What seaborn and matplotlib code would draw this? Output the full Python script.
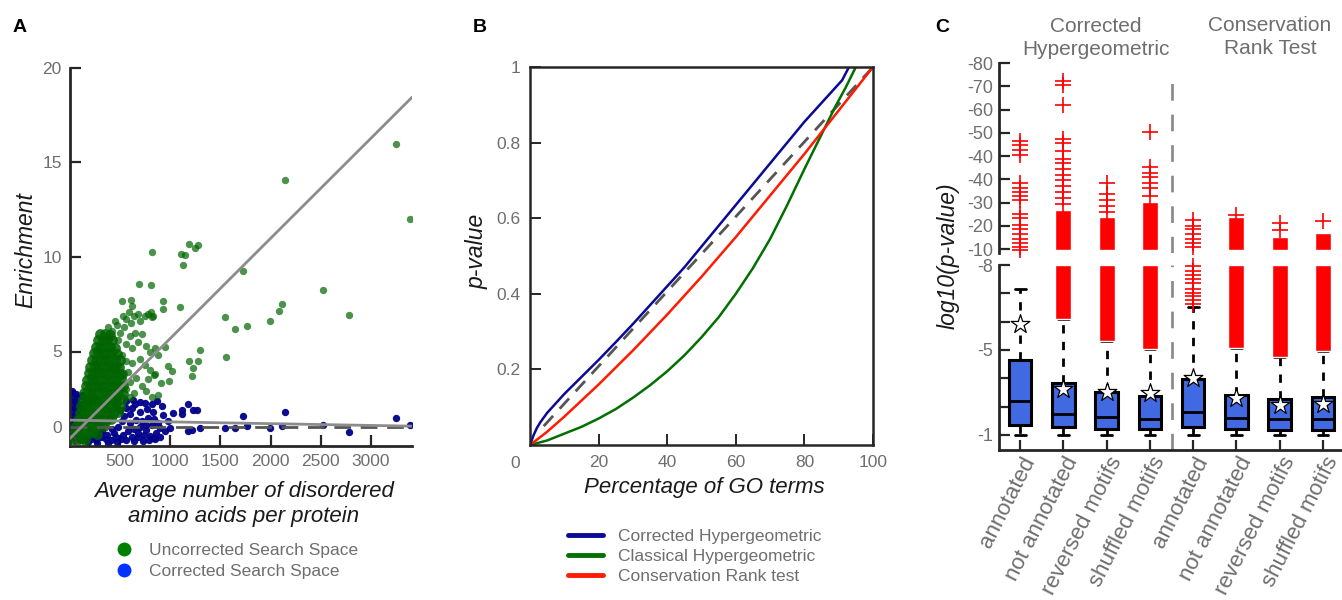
import matplotlib
matplotlib.use("Agg")
import matplotlib.pyplot as plt
import matplotlib.transforms as mtransforms
from matplotlib.lines import Line2D
import numpy as np
import seaborn as sns

sns.set_style("ticks")
plt.rcParams['font.family'] = ['Liberation Sans', 'DejaVu Sans']

# ---------- PANEL A DATA ----------
green_core = [
    (30, 0.35), (70, 0.30), (110, 0.40), (150, 0.30),
    (40, 0.70), (85, 0.75), (130, 0.65), (175, 0.70), (220, 0.75), (265, 0.65),
    (55, 1.05), (100, 1.00), (145, 1.10), (190, 1.05), (240, 1.00), (290, 1.10), (340, 1.05),
    (75, 1.40), (120, 1.45), (165, 1.35), (210, 1.40), (260, 1.45), (310, 1.35), (360, 1.40), (410, 1.45),
    (95, 1.75), (140, 1.70), (185, 1.80), (230, 1.75), (280, 1.70), (330, 1.80), (380, 1.75), (430, 1.70), (480, 1.80),
    (110, 2.10), (155, 2.15), (200, 2.05), (245, 2.10), (295, 2.15), (345, 2.05), (395, 2.10), (445, 2.15), (500, 2.05),
    (125, 2.45), (170, 2.40), (215, 2.50), (260, 2.45), (310, 2.40), (360, 2.50), (410, 2.45), (460, 2.40), (515, 2.50),
    (140, 2.80), (185, 2.85), (230, 2.75), (275, 2.80), (325, 2.85), (375, 2.75), (425, 2.80), (475, 2.85), (525, 2.75),
    (155, 3.15), (200, 3.10), (245, 3.20), (290, 3.15), (340, 3.10), (390, 3.20), (440, 3.15), (490, 3.10), (530, 3.20),
    (170, 3.50), (215, 3.55), (260, 3.45), (305, 3.50), (355, 3.55), (405, 3.45), (455, 3.50), (510, 3.55),
    (185, 3.85), (230, 3.80), (275, 3.90), (320, 3.85), (370, 3.80), (420, 3.90), (470, 3.85), (520, 3.80),
    (200, 4.20), (245, 4.25), (290, 4.15), (335, 4.20), (385, 4.25), (435, 4.15), (490, 4.20),
    (215, 4.55), (260, 4.50), (305, 4.60), (350, 4.55), (400, 4.50), (450, 4.60), (500, 4.55),
    (235, 4.90), (280, 4.95), (325, 4.85), (370, 4.90), (420, 4.95), (470, 4.85),
    (255, 5.25), (300, 5.20), (345, 5.30), (395, 5.25), (445, 5.20),
    (280, 5.60), (325, 5.55), (370, 5.65), (420, 5.60),
    (300, 5.90), (345, 5.95), (395, 5.85),
]
green_spread = [
    (420, 6.1), (470, 6.4), (500, 6.0), (540, 6.3), (560, 6.7), (610, 6.5), (640, 6.9), (680, 7.0), (700, 6.6),
    (750, 6.9), (780, 7.0), (820, 6.8), (600, 5.8), (650, 6.0), (560, 5.4), (620, 5.2), (680, 5.5), (720, 5.9),
    (760, 5.3), (800, 5.0), (850, 5.2), (880, 4.8), (700, 4.6), (750, 4.3), (800, 4.0), (850, 3.8), (620, 4.4),
    (580, 3.9), (660, 3.6), (720, 3.2), (760, 2.9), (820, 2.6), (880, 2.7), (640, 2.8), (600, 2.6),
    (480, 5.6), (520, 4.8), (560, 4.5), (520, 3.8), (600, 3.4), (480, 4.3), (560, 3.0),
    (380, 6.3), (450, 6.6), (530, 6.9), (590, 7.1),
]
green_outliers = [
    (3254, 16.0), (3393, 12.0), (2141, 14.05), (1720, 9.27), (2523, 8.26), (2782, 6.94), (2118, 7.49), (2085, 7.15),
    (1992, 6.62), (1544, 6.84), (1643, 6.17), (1766, 6.34), (1554, 4.72), (1278, 10.63), (1189, 10.67), (1245, 10.47),
    (1106, 10.14), (1145, 10.10), (1122, 9.57), (820, 10.26), (1096, 7.33), (1295, 5.06), (1278, 4.51), (1182, 4.51),
    (1222, 4.15), (1212, 3.68), (1019, 3.95), (979, 4.25), (989, 3.44), (930, 7.69), (930, 7.23), (946, 5.26),
    (903, 3.34), (840, 3.74), (780, 3.54), (687, 8.56), (803, 8.54), (604, 7.73), (514, 7.69), (614, 7.39),
    (810, 7.09), (827, 6.88),
]
blue_core = [
    (15, 2.9), (30, 2.8), (55, 2.75), (80, 2.6), (20, 2.5), (45, 2.4), (70, 2.3), (100, 2.2), (25, 2.1), (50, 2.0),
    (15, 1.8), (40, 1.6), (20, 1.4), (35, 1.2), (15, 1.0), (30, 0.8), (15, 0.6), (40, 0.45), (75, 1.9), (90, 1.6),
    (60, 0.4), (110, 0.3), (160, 0.45), (210, 0.35), (260, 0.3), (310, 0.45), (360, 0.35), (410, 0.3), (460, 0.45),
    (510, 0.35), (560, 0.3), (620, 0.5), (680, 0.45), (740, 0.6), (800, 0.55), (860, 0.7),
    (180, 0.2), (250, 0.6), (320, 0.8), (370, 0.6), (420, 0.9), (270, 0.15), (380, 0.15), (470, 0.2),
    (580, 0.8), (640, 0.9), (700, 1.0), (760, 0.85), (820, 1.1), (880, 1.2), (600, 1.2), (660, 1.4), (720, 1.3),
    (780, 1.5), (840, 1.45), (540, 1.6), (600, 1.7), (500, 1.9), (560, 2.0), (450, 2.2), (520, 1.3), (480, 1.0),
    (440, 0.7), (400, 1.5), (380, 1.9), (330, 2.2), (260, 2.5), (200, 2.6), (150, 2.5), (120, 2.7), (190, 2.3), (130, 2.1),
    (730, 0.25), (790, 0.3), (850, 0.35), (640, 0.25), (900, 0.5), (950, 0.8), (980, 1.3), (920, 2.1), (870, 2.4),
    (700, 1.8), (650, 2.2), (750, 2.3), (560, 2.4), (620, 2.0), (680, 0.7), (760, 1.1), (530, 0.6), (300, 0.7),
]
blue_outliers = [
    (1179, 2.23), (1112, 1.92), (1029, 1.72), (1262, 1.92), (1229, 1.88), (1112, 1.68), (1720, 1.58), (2141, 1.82),
    (3254, 1.48), (3393, 1.11), (2523, 1.11), (2782, 0.75), (2118, 1.05), (1992, 0.97), (1544, 0.95), (1766, 1.05),
    (1643, 0.95), (1295, 0.95), (1212, 0.87), (1179, 0.81), (830, 0.40), (930, 1.62), (996, 0.95), (896, 0.95),
    (813, 2.23), (764, 1.96), (830, 1.82), (697, 2.33), (624, 2.43), (465, 2.53),
]
fit_x = [0, 3410]
green_fit = [0.40, 18.45]
blue_fit = [1.37, 1.05]
baseline = [1.0, 1.0]
a_xticks = [500, 1000, 1500, 2000, 2500, 3000]
a_yticks = [1, 5, 10, 15, 20]
a_yticklabels = ["0", "5", "10", "15", "20"]

# ---------- PANEL B DATA ----------
b_blue_x = [0, 1, 2, 3, 5, 7, 10, 15, 20, 25, 30, 35, 40, 45, 50, 55, 60, 65, 70, 75, 80, 85, 88, 91, 93]
b_blue_y = [0, 0.025, 0.045, 0.06, 0.085, 0.105, 0.135, 0.18, 0.225, 0.272, 0.32, 0.37, 0.42, 0.47, 0.525,
            0.58, 0.635, 0.69, 0.745, 0.80, 0.855, 0.905, 0.935, 0.965, 1.0]
b_green_x = [0, 5, 10, 15, 20, 25, 30, 35, 40, 45, 50, 55, 60, 65, 70, 75, 80, 83, 86, 89, 92, 95]
b_green_y = [0, 0.012, 0.03, 0.048, 0.07, 0.095, 0.125, 0.158, 0.195, 0.237, 0.285, 0.338, 0.40, 0.468,
             0.545, 0.635, 0.73, 0.785, 0.84, 0.895, 0.945, 1.0]
b_red_x = [0, 5, 10, 20, 30, 40, 50, 60, 70, 80, 90, 100]
b_red_y = [0, 0.035, 0.075, 0.16, 0.25, 0.345, 0.445, 0.55, 0.66, 0.77, 0.885, 1.0]
b_diag_x = [4, 100]
b_diag_y = [0.05, 1.0]

# ---------- PANEL C DATA (positions on the broken axis) ----------
c_labels = ["annotated", "not annotated", "reversed motifs", "shuffled motifs"] * 2
c_q1 = [0.37, 0.27, 0.21, 0.21, 0.27, 0.21, 0.17, 0.17]
c_med = [1.20, 0.75, 0.64, 0.57, 0.80, 0.60, 0.55, 0.55]
c_q3 = [2.64, 1.84, 1.50, 1.37, 1.97, 1.40, 1.27, 1.33]
c_whislo = [0, 0, 0, 0, 0, 0, 0, 0]
c_whishi = [5.15, 4.10, 3.30, 3.04, 4.50, 3.08, 2.77, 2.97]
c_star = [3.90, 1.64, 1.50, 1.47, 2.00, 1.30, 1.07, 1.10]
c_band_lo = [np.nan, 4.10, 3.30, 3.04, np.nan, 3.08, 2.77, 2.97]
c_band_hi = [np.nan, 1.68, 1.38, 2.02, np.nan, 1.39, 0.53, 0.70]
c_fliers_lo = {4: [4.64, 4.75, 4.89, 5.00, 5.14, 5.36, 5.50, 5.64, 5.79, 5.96]}
c_fliers_hi = {
    0: [4.63, 4.46, 4.24, 4.04, 2.83, 2.61, 2.44, 2.27, 2.10, 1.52, 1.35, 1.04, 0.84, 0.64, 0.42, 0.25, 0.08, -0.03],
    1: [1.94, 2.19, 2.44, 2.69, 2.95, 3.20, 3.45, 3.70, 3.87, 4.21, 4.55, 4.75, 6.18, 7.07, 7.24],
    2: [1.60, 1.85, 2.10, 2.36, 2.86],
    3: [2.27, 2.61, 2.86, 3.11, 3.28, 3.54, 5.05],
    4: [0.08, 0.25, 0.42, 0.64, 0.84, 1.01, 1.26],
    5: [1.45],
    6: [0.82, 1.12],
    7: [1.20],
}
c_hi_ticklabels = ["-10", "-20", "-30", "-40", "-40", "-50", "-60", "-70", "-80"]
c_lo_ticklabels = ["-1", "", "", "-5", "", "", "-8"]

# ---------- FIGURE ----------
W, H = 1342, 600
TXT = '#6e6e6e'


def frame(l, t, r, b):
    return [l / W, 1 - b / H, (r - l) / W, (b - t) / H]


fig = plt.figure(figsize=(W / 100, H / 100), dpi=100)

# ---------- PANEL A ----------
axa = fig.add_axes(frame(70, 68, 412, 446))
sns.scatterplot(x=[p[0] for p in blue_core + blue_outliers], y=[p[1] for p in blue_core + blue_outliers],
                color='#00008B', s=28, linewidth=0, alpha=0.95, ax=axa, zorder=2)
sns.scatterplot(x=[p[0] for p in green_core], y=[p[1] for p in green_core],
                color='#006400', s=60, linewidth=0, alpha=0.85, ax=axa, zorder=3)
sns.scatterplot(x=[p[0] for p in green_spread + green_outliers], y=[p[1] for p in green_spread + green_outliers],
                color='#006400', s=28, linewidth=0, alpha=0.7, ax=axa, zorder=3)
sns.scatterplot(x=[15], y=[0.25], s=45, facecolor='none', edgecolor='#444444', linewidth=1.3, ax=axa, zorder=4)
sns.lineplot(x=fit_x, y=baseline, color='#555555', lw=2, linestyle=(0, (6, 3.5)), ax=axa, zorder=4)
sns.lineplot(x=fit_x, y=green_fit, color='#8c8c8c', lw=2, ax=axa, zorder=5)
sns.lineplot(x=fit_x, y=blue_fit, color='#8c8c8c', lw=2, ax=axa, zorder=5)
axa.set_xlim(0, 3410)
axa.set_ylim(0, 20)
axa.set_xticks(a_xticks)
axa.set_yticks(a_yticks)
axa.set_yticklabels(a_yticklabels)
axa.set_xlabel("")
axa.set_ylabel("")
for s in ['top', 'right']:
    axa.spines[s].set_visible(False)
for s in ['left', 'bottom']:
    axa.spines[s].set_linewidth(2)
axa.tick_params(direction='in', length=8, width=1.6, labelsize=12.5, labelcolor=TXT, pad=6)

fig.text(26 / W, 1 - 250 / H, "Enrichment", rotation=90, ha='center', va='center',
         fontsize=16.5, style='italic', color='#1a1a1a')
fig.text(244 / W, 1 - 504 / H, "Average number of disordered\namino acids per protein", ha='center', va='center',
         fontsize=16, style='italic', color='#1a1a1a', linespacing=1.2)
a_handles = [Line2D([], [], marker='o', ls='', color='#008000', ms=9),
             Line2D([], [], marker='o', ls='', color='#0033ff', ms=9)]
fig.legend(a_handles, ["Uncorrected Search Space", "Corrected Search Space"], loc='upper left',
           bbox_to_anchor=(114 / W, 1 - 543 / H), frameon=False, fontsize=12.5, labelcolor=TXT,
           handlelength=1.2, handletextpad=0.8, labelspacing=0.32, borderpad=0, borderaxespad=0)

# ---------- PANEL B ----------
axb = fig.add_axes(frame(530, 67, 873, 445))
sns.lineplot(x=b_diag_x, y=b_diag_y, color='#555555', lw=2, linestyle=(0, (5, 3.5)), ax=axb)
sns.lineplot(x=b_green_x, y=b_green_y, color='#007000', lw=1.8, ax=axb)
sns.lineplot(x=b_red_x, y=b_red_y, color='#ff1a00', lw=1.8, ax=axb)
sns.lineplot(x=b_blue_x, y=b_blue_y, color='#0a0a96', lw=1.8, ax=axb)
axb.set_xlim(0, 100)
axb.set_ylim(0, 1)
axb.set_xticks([20, 40, 60, 80, 100])
axb.set_yticks([0.2, 0.4, 0.6, 0.8, 1.0])
axb.set_yticklabels(["0.2", "0.4", "0.6", "0.8", "1"])
axb.set_xlabel("")
axb.set_ylabel("")
for s in axb.spines.values():
    s.set_linewidth(1.8)
axb.tick_params(direction='in', length=8, width=1.4, labelsize=12.5, labelcolor=TXT, pad=7)
fig.text(515 / W, 1 - 463 / H, "0", ha='center', va='center', fontsize=12.5, color=TXT)
fig.text(477 / W, 1 - 251 / H, "p-value", rotation=90, ha='center', va='center',
         fontsize=16.5, style='italic', color='#1a1a1a')
fig.text(704 / W, 1 - 488 / H, "Percentage of GO terms", ha='center', va='center',
         fontsize=16, style='italic', color='#1a1a1a')
b_handles = [Line2D([], [], color='#0a0a96', lw=3.5), Line2D([], [], color='#007000', lw=3.5),
             Line2D([], [], color='#ff1a00', lw=3.5)]
fig.legend(b_handles, ["Corrected Hypergeometric", "Classical Hypergeometric", "Conservation Rank test"],
           loc='upper left', bbox_to_anchor=(568 / W, 1 - 529 / H), frameon=False, fontsize=12.5,
           labelcolor=TXT, handlelength=2.0, handletextpad=0.9, labelspacing=0.27, borderpad=0, borderaxespad=0)

# ---------- PANEL C ----------
c_pos = list(range(8))
LO_MIN, HI_MIN = -0.53, -0.15
axlo = fig.add_axes(frame(999, 265, 1342, 450))
axhi = fig.add_axes(frame(999, 63, 1342, 252.5))

stats = [dict(q1=c_q1[i], med=c_med[i], q3=c_q3[i], whislo=c_whislo[i], whishi=c_whishi[i], fliers=[])
         for i in c_pos]
axlo.bxp(stats, positions=c_pos, widths=0.52, patch_artist=True, showfliers=False, manage_ticks=False,
         boxprops=dict(facecolor='#4169E1', edgecolor='black', linewidth=2.2),
         medianprops=dict(color='black', linewidth=2),
         whiskerprops=dict(color='black', linewidth=2, linestyle=(0, (3, 3))),
         capprops=dict(color='black', linewidth=2), capwidths=0.25)

lo_idx = [i for i in c_pos if not np.isnan(c_band_lo[i])]
axlo.bar(lo_idx, [6.0 - c_band_lo[i] for i in lo_idx], bottom=[c_band_lo[i] for i in lo_idx],
         width=0.37, color='red', zorder=3)
hi_idx = [i for i in c_pos if not np.isnan(c_band_hi[i])]
axhi.bar(hi_idx, [c_band_hi[i] + 0.06 for i in hi_idx], bottom=-0.06,
         width=0.37, color='red', zorder=3)
for i, vals in c_fliers_lo.items():
    axlo.plot([i] * len(vals), vals, '+', color='red', ms=12, mew=1.2, clip_on=False, zorder=3)
for i, vals in c_fliers_hi.items():
    axhi.plot([i] * len(vals), vals, '+', color='red', ms=12, mew=1.2, clip_on=False, zorder=3)
sns.scatterplot(x=c_pos, y=c_star, marker='*', s=200, color='white', edgecolor='black', linewidth=0.9,
                ax=axlo, zorder=6)

axlo.set_ylim(LO_MIN, 6)
axhi.set_ylim(HI_MIN, 8)
axlo.axvline(3.5, color='#8c8c8c', lw=2, linestyle=(0, (6, 5)), zorder=1)
axhi.axvline(3.5, ymin=0, ymax=(7.4 - HI_MIN) / (8 - HI_MIN), color='#8c8c8c', lw=2,
             linestyle=(0, (6, 5)), zorder=1)
for ax in (axlo, axhi):
    ax.set_xlim(-0.49, 7.44)
    ax.spines['right'].set_visible(False)
    ax.spines['top'].set_visible(False)
    ax.spines['left'].set_linewidth(2)
    ax.tick_params(axis='y', direction='in', length=8, width=1.6, labelsize=13, labelcolor=TXT, pad=4)
axhi.spines['bottom'].set_visible(False)
axhi.set_yticks(range(9))
axhi.set_yticklabels(c_hi_ticklabels)
axhi.set_xticks([])
axlo.spines['bottom'].set_linewidth(2)
axlo.set_yticks(range(7))
axlo.set_yticklabels(c_lo_ticklabels)
axlo.set_xticks(c_pos)
axlo.set_xticklabels(c_labels, rotation=63, ha='right', va='center', rotation_mode='anchor',
                     fontsize=16, color=TXT)
axlo.tick_params(axis='x', direction='in', length=7, width=1.6, pad=6)
shift = mtransforms.ScaledTranslation(0.1, 0, fig.dpi_scale_trans)
for lab in axlo.get_xticklabels():
    lab.set_transform(lab.get_transform() + shift)

fig.text(948 / W, 1 - 256 / H, "log10(p-value)", rotation=90, ha='center', va='center',
         fontsize=16.5, style='italic', color='#1a1a1a')
fig.text(1096 / W, 1 - 38 / H, "Corrected\nHypergeometric", ha='center', va='center', fontsize=15,
         color=TXT, linespacing=1.3)
fig.text(1270 / W, 1 - 37 / H, "Conservation\nRank Test", ha='center', va='center', fontsize=15,
         color=TXT, linespacing=1.3)

# ---------- PANEL LETTERS ----------
for letter, x in [("A", 20), ("B", 480), ("C", 942)]:
    fig.text(x / W, 1 - 28 / H, letter, ha='center', va='center', fontsize=14, fontweight='bold', color='black')

fig.savefig("out.png", dpi=100)
